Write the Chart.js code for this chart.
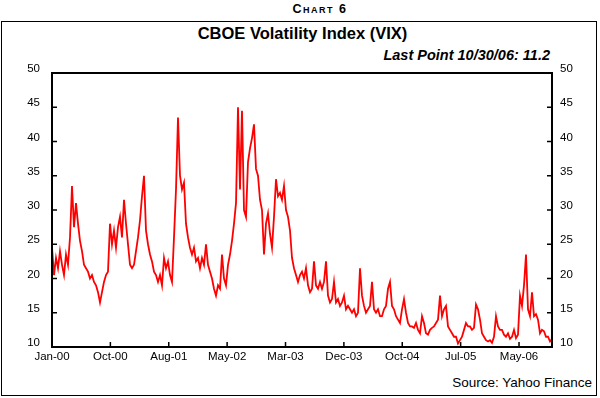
<!DOCTYPE html>
<html>
<head>
<meta charset="utf-8">
<script src="https://cdn.jsdelivr.net/npm/chart.js@4"></script>
<style>
  html,body{margin:0;padding:0;background:#fff;}
  #wrap{position:relative;width:600px;height:398px;overflow:hidden;font-family:"Liberation Sans",Arial,sans-serif;color:#000;}
  #box{position:absolute;left:1px;top:21px;width:594px;height:373px;border:1.5px solid #000;}
  #cv{position:absolute;left:0;top:0;}
  .t{position:absolute;white-space:nowrap;}
  #chartno{left:220px;width:200px;text-align:center;top:1px;font-size:12.5px;font-weight:bold;font-variant:small-caps;letter-spacing:1.5px;line-height:16px;}
  #title{left:0;width:605px;text-align:center;top:23px;font-size:16.5px;font-weight:bold;line-height:20px;}
  #last{right:50px;top:46px;font-size:14.5px;font-weight:bold;font-style:italic;line-height:18px;}
  #src{right:8px;top:374px;font-size:13.5px;line-height:18px;}
</style>
</head>
<body>
<div id="wrap">
  <div id="box"></div>
  <div class="t" id="chartno">Chart 6</div>
  <div class="t" id="title">CBOE Volatility Index (VIX)</div>
  <div class="t" id="last">Last Point 10/30/06: 11.2</div>
  <div class="t" id="src">Source: Yahoo Finance</div>
  <canvas id="cv" width="600" height="398"></canvas>
</div>
<script>
const vix = [
  24.5, 20.5, 23, 21.5, 24, 22, 20.5, 23.5, 22, 26,
  33.5, 27.5, 31, 28, 25.5, 24, 22, 21.5, 21, 20,
  20.5, 19.5, 19, 18, 16.5, 18, 19.5, 20.5, 21, 28,
  25, 27, 24.5, 27.5, 29, 26, 31.5, 28, 25, 22,
  21.5, 22, 24, 26, 28.5, 32, 35, 27, 25, 23.5,
  22.5, 21, 20.5, 19.5, 20.5, 19, 23, 21.5, 22.5, 20.5,
  19.5, 26, 33, 43.5, 35, 33, 34, 28, 26, 24.5,
  23.5, 24.5, 22.5, 23, 21.5, 23, 22, 25, 22, 21,
  20, 18.5, 17.5, 19, 18.5, 23.5, 20, 19, 22, 23.5,
  25.5, 28, 31, 45, 33, 44.5, 30, 29, 37, 39,
  40.5, 42.5, 36, 35, 31.5, 30, 23.5, 28, 29.5, 26.5,
  24.5, 29, 34.5, 32, 32.5, 31.5, 33.5, 30, 29, 27,
  23, 21.5, 20.5, 19.5, 20.5, 21, 20, 21.5, 19, 18,
  18.5, 22.5, 19, 18.5, 19.5, 18.5, 19.5, 22.5, 17.5, 16.5,
  17, 19.5, 16.5, 17, 16, 16.5, 17.5, 15.5, 16, 15.5,
  15, 15.5, 14.5, 15, 21.5, 17.5, 16, 15, 15.5, 16,
  19.5, 15.5, 15, 15.5, 14.5, 14.5, 15.5, 16, 18.5, 19.5,
  16, 15.5, 14.5, 14, 13.5, 15.5, 17, 15, 13.5, 13,
  13, 12.8, 13.5, 12.5, 12, 14.5, 13.5, 12, 11.8, 12.5,
  12.8, 13, 13.5, 14, 17.5, 14.5, 15.5, 16, 13, 12.5,
  12, 11.5, 11.5, 10.5, 11, 11.5, 12.5, 13.5, 13, 13,
  12.5, 12.8, 16.2, 15.5, 14, 12, 11.5, 11, 10.8, 11,
  10.6, 11.5, 14.5, 13, 12.5, 12.5, 11.8, 11.5, 12, 11.2,
  11.5, 12.5, 11.3, 11.8, 17.5, 16, 19, 23.5, 15.5, 14.5,
  18, 14.5, 14.8, 14, 12, 12.5, 12.3, 11.5, 11.5, 10.8, 11.2
];
const lastDay = 1713;                       // trading days in the span
const tickDays = [0, 200, 400, 600, 800, 1000, 1200, 1400, 1600];
const tickLabels = ['Jan-00','Oct-00','Aug-01','May-02','Mar-03','Dec-03','Oct-04','Jul-05','May-06'];
const yMin = 10, yMax = 50, yStep = 5;

const stepDays = lastDay / (vix.length - 1);
const points = vix.map((v, i) => ({x: i * stepDays, y: v}));

const font = {family: '"Liberation Sans", Arial, sans-serif', size: 11.5};

const frame = {
  id: 'frame',
  afterDatasetsDraw(chart) {
    const {ctx, chartArea: a, scales} = chart;
    ctx.save();
    ctx.strokeStyle = '#000';
    ctx.lineWidth = 2;
    ctx.strokeRect(a.left, a.top, a.right - a.left, a.bottom - a.top);
    ctx.lineWidth = 1.5;
    ctx.beginPath();
    scales.y.ticks.forEach(t => {
      const p = scales.y.getPixelForValue(t.value);
      ctx.moveTo(a.left, p); ctx.lineTo(a.left + 5, p);
      ctx.moveTo(a.right, p); ctx.lineTo(a.right - 5, p);
    });
    scales.x.ticks.forEach(t => {
      const p = scales.x.getPixelForValue(t.value);
      ctx.moveTo(p, a.bottom); ctx.lineTo(p, a.bottom - 5);
    });
    ctx.stroke();
    ctx.restore();
  }
};

const noGrid = {display: false, drawTicks: false};

new Chart(document.getElementById('cv'), {
  type: 'line',
  data: {
    datasets: [{
      data: points,
      borderColor: '#ff0000',
      borderWidth: 1.8,
      pointRadius: 0,
      tension: 0,
      fill: false
    }]
  },
  options: {
    responsive: false,
    animation: false,
    events: [],
    layout: {padding: {left: 22, right: 17, top: 73, bottom: 0}},
    plugins: {legend: {display: false}, tooltip: {enabled: false}, title: {display: false}},
    scales: {
      x: {
        type: 'linear', min: 0, max: lastDay,
        grid: noGrid, border: {display: false},
        afterBuildTicks: s => { s.ticks = tickDays.map(v => ({value: v})); },
        afterFit: s => { s.height = 51; },
        ticks: {
          autoSkip: false, maxRotation: 0, padding: 3, color: '#000', font,
          callback: (v) => tickLabels[tickDays.indexOf(v)]
        }
      },
      y: {
        position: 'left', min: yMin, max: yMax,
        grid: noGrid, border: {display: false},
        afterFit: s => { s.width = 30; },
        ticks: {stepSize: yStep, padding: 12, labelOffset: -4, color: '#000', font}
      },
      y2: {
        position: 'right', min: yMin, max: yMax, display: true,
        grid: noGrid, border: {display: false},
        afterFit: s => { s.width = 31; },
        ticks: {stepSize: yStep, padding: 8, labelOffset: -4, color: '#000', font}
      }
    }
  },
  plugins: [frame]
});
</script>
</body>
</html>
